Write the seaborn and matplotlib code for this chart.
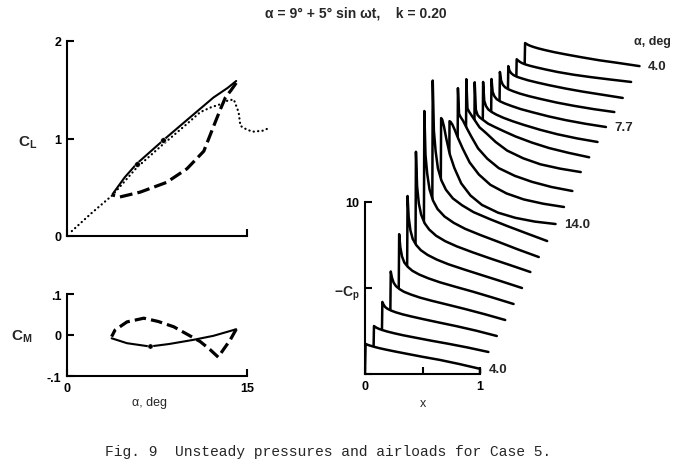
import numpy as np
import matplotlib
matplotlib.use("Agg")
import matplotlib.pyplot as plt
import seaborn as sns

# ---- airloads, alpha = 9 + 5 sin wt ----
static_alpha = [0.4, 2.0, 3.8, 5.8, 8.0, 10.0, 11.1, 12.0, 12.75, 13.4, 13.9, 14.3, 14.45, 15.0, 15.5, 16.3, 16.9]
static_cl = [0.05, 0.23, 0.42, 0.70, 0.94, 1.15, 1.27, 1.32, 1.35, 1.39, 1.40, 1.27, 1.13, 1.09, 1.07, 1.08, 1.11]

up_alpha = [3.8, 4.8, 5.8, 8.0, 10.0, 12.2, 13.4, 14.1]
up_cl = [0.43, 0.60, 0.74, 0.98, 1.19, 1.42, 1.52, 1.59]
down_alpha = [14.1, 13.7, 13.2, 12.75, 12.2, 11.4, 10.0, 8.3, 6.1, 4.4, 3.8]
down_cl = [1.57, 1.50, 1.42, 1.29, 1.12, 0.87, 0.69, 0.55, 0.45, 0.40, 0.42]
mark_alpha = [5.8, 8.0]
mark_cl = [0.74, 0.98]

cm_up_alpha = [3.72, 5.0, 6.9, 8.5, 10.5, 12.2, 14.1]
cm_up = [-0.008, -0.02, -0.028, -0.022, -0.012, -0.002, 0.014]
cm_down_alpha = [14.1, 13.6, 13.0, 12.6, 11.9, 11.1, 10.0, 8.9, 7.6, 6.4, 5.0, 4.0, 3.72]
cm_down = [0.014, -0.012, -0.037, -0.054, -0.035, -0.016, 0.002, 0.02, 0.033, 0.041, 0.032, 0.012, -0.004]
cm_mark_alpha = [6.9]
cm_mark = [-0.028]

# ---- pressure distributions, -Cp vs x, one per time step ----
x_stations = [0.0, 0.005, 0.015, 0.03, 0.05, 0.08, 0.12, 0.18, 0.26, 0.36, 0.5, 0.65, 0.82, 1.0, 1.0]
cp_curves = [
    [0, 1.75, 1.72, 1.68, 1.64, 1.58, 1.51, 1.42, 1.31, 1.18, 1.00, 0.82, 0.58, 0.30, 0.05],
    [0, 1.87, 1.82, 1.76, 1.70, 1.63, 1.55, 1.45, 1.33, 1.20, 1.02, 0.84, 0.62, 0.36],
    [0, 2.35, 2.20, 2.05, 1.95, 1.85, 1.75, 1.63, 1.50, 1.35, 1.15, 0.94, 0.68, 0.37],
    [0, 3.20, 2.85, 2.55, 2.35, 2.18, 2.02, 1.86, 1.68, 1.50, 1.27, 1.02, 0.72, 0.38],
    [0, 4.45, 3.70, 3.15, 2.80, 2.55, 2.32, 2.10, 1.88, 1.65, 1.38, 1.10, 0.76, 0.39],
    [0, 5.75, 4.50, 3.75, 3.25, 2.90, 2.60, 2.32, 2.05, 1.78, 1.47, 1.15, 0.79, 0.40],
    [0, 7.40, 5.40, 4.40, 3.75, 3.25, 2.88, 2.52, 2.20, 1.90, 1.55, 1.20, 0.82, 0.41],
    [0, 8.85, 6.30, 5.20, 4.30, 3.65, 3.15, 2.72, 2.35, 2.00, 1.62, 1.24, 0.80, 0.36],
    [0, 9.70, 6.80, 5.60, 4.60, 3.90, 3.35, 2.85, 2.45, 2.05, 1.65, 1.25, 0.82, 0.37],
    [0, 6.60, 6.50, 6.10, 5.40, 4.50, 3.70, 2.80, 2.10, 1.55, 1.10, 0.80, 0.58, 0.44],
    [0, 5.50, 5.45, 5.30, 5.00, 4.50, 3.90, 3.10, 2.40, 1.80, 1.30, 0.95, 0.70, 0.51],
    [0, 6.50, 5.00, 4.80, 4.60, 4.20, 3.70, 3.00, 2.40, 1.85, 1.40, 1.05, 0.75, 0.52],
    [0, 6.10, 4.40, 4.20, 4.00, 3.70, 3.30, 2.95, 2.45, 1.95, 1.50, 1.15, 0.90, 0.70],
    [0, 5.00, 3.40, 3.10, 2.95, 2.80, 2.60, 2.40, 2.15, 1.85, 1.50, 1.18, 0.90, 0.64],
    [0, 4.10, 3.00, 2.70, 2.50, 2.35, 2.20, 2.02, 1.82, 1.60, 1.32, 1.06, 0.82, 0.61],
    [0, 3.35, 2.60, 2.35, 2.18, 2.05, 1.93, 1.78, 1.60, 1.42, 1.18, 0.96, 0.75, 0.56],
    [0, 2.84, 2.35, 2.10, 1.95, 1.83, 1.72, 1.58, 1.43, 1.27, 1.06, 0.87, 0.68, 0.51],
    [0, 2.26, 2.00, 1.85, 1.74, 1.64, 1.55, 1.43, 1.30, 1.15, 0.96, 0.78, 0.60, 0.41],
    [0, 1.74, 1.68, 1.60, 1.52, 1.44, 1.36, 1.26, 1.14, 1.00, 0.84, 0.70, 0.56, 0.42],
    [0, 1.76, 1.72, 1.66, 1.60, 1.53, 1.45, 1.35, 1.23, 1.10, 0.93, 0.76, 0.60, 0.42],
]
curve_labels = {0: "4.0", 9: "14.0", 15: "7.7", 19: "4.0"}

# waterfall shift per curve
DX = 0.073
DY = 0.92

sns.set_style("ticks")
plt.rcParams["font.family"] = ["Liberation Sans", "DejaVu Sans"]
plt.rcParams["font.weight"] = "bold"
plt.rcParams["mathtext.fontset"] = "custom"
plt.rcParams["mathtext.bf"] = "Liberation Sans:bold"
plt.rcParams["mathtext.rm"] = "Liberation Sans:bold"
plt.rcParams["mathtext.it"] = "Liberation Sans:bold"

W, H = 697, 477
fig = plt.figure(figsize=(W / 100, H / 100), dpi=100)


def box(l, t, r, b):
    return [l / W, 1 - b / H, (r - l) / W, (b - t) / H]


def style_axes(ax, xb, yb):
    for s in ["top", "right"]:
        ax.spines[s].set_visible(False)
    for s in ["left", "bottom"]:
        ax.spines[s].set_linewidth(1.5)
        ax.spines[s].set_color("black")
        ax.spines[s].set_zorder(100)
    ax.spines["bottom"].set_bounds(*xb)
    ax.spines["left"].set_bounds(*yb)
    ax.tick_params(direction="in", length=5, width=1.5, labelsize=9, pad=4, colors="black")
    ax.xaxis.set_zorder(100)
    ax.yaxis.set_zorder(100)
    ax.set_facecolor("none")


ax_cl = fig.add_axes(box(67, 42, 277, 237))
ax_cm = fig.add_axes(box(67, 295, 277, 377))
ax_cp = fig.add_axes(box(365, 31, 652.5, 375))

# ---- C_L ----
sns.lineplot(x=static_alpha, y=static_cl, ax=ax_cl, color="black", lw=1.6,
             linestyle=(0, (0.1, 1.9)), dash_capstyle="round", sort=False, estimator=None)
sns.lineplot(x=up_alpha, y=up_cl, ax=ax_cl, color="black", lw=1.5, sort=False, estimator=None,
             solid_capstyle="round")
sns.lineplot(x=down_alpha, y=down_cl, ax=ax_cl, color="black", lw=2.3,
             linestyle=(0, (4.0, 1.6)), sort=False, estimator=None)
sns.scatterplot(x=mark_alpha, y=mark_cl, ax=ax_cl, color="black", s=16, zorder=5)
ax_cl.set_xlim(0, 17.5)
ax_cl.set_ylim(0, 2)
style_axes(ax_cl, (0, 15), (0, 2))
ax_cl.set_xticks([0, 15])
ax_cl.set_xticklabels([])
ax_cl.set_yticks([0, 1, 2])
ax_cl.set_yticklabels(["0", "1", "2"])
ax_cl.set_ylabel(r"$\mathbf{C_L}$", rotation=0, fontsize=11)
ax_cl.yaxis.set_label_coords(-0.186, 0.44)

# ---- C_M ----
sns.lineplot(x=cm_up_alpha, y=cm_up, ax=ax_cm, color="black", lw=1.5, sort=False, estimator=None)
sns.lineplot(x=cm_down_alpha, y=cm_down, ax=ax_cm, color="black", lw=2.3,
             linestyle=(0, (3.6, 1.6)), sort=False, estimator=None)
sns.scatterplot(x=cm_mark_alpha, y=cm_mark, ax=ax_cm, color="black", s=14, zorder=5)
ax_cm.set_xlim(0, 17.5)
ax_cm.set_ylim(-0.1, 0.1)
style_axes(ax_cm, (0, 15), (-0.1, 0.1))
ax_cm.set_xticks([0, 15])
ax_cm.set_xticklabels(["0", "15"])
ax_cm.set_yticks([-0.1, 0, 0.1])
ax_cm.set_yticklabels(["-.1", "0", ".1"])
ax_cm.set_ylabel(r"$\mathbf{C_M}$", rotation=0, fontsize=11)
ax_cm.yaxis.set_label_coords(-0.214, 0.39)
ax_cm.set_xlabel("α, deg", fontsize=9)
ax_cm.xaxis.set_label_coords(0.395, -0.245)

# ---- -Cp waterfall, drawn back to front with white fill for hidden lines ----
n = len(cp_curves)
te = len(x_stations) - 2
for k in range(n - 1, -1, -1):
    vals = np.array(cp_curves[k])
    xs = np.array(x_stations[:len(vals)]) + k * DX
    ys = vals + k * DY
    ax_cp.fill_between(xs, k * DY, ys, color="white", lw=0, zorder=2 * (n - k))
    sns.lineplot(x=xs, y=ys, ax=ax_cp, color="black", lw=1.8, sort=False, estimator=None,
                 zorder=2 * (n - k) + 1)
    if k in curve_labels:
        ax_cp.annotate(curve_labels[k], xy=(xs[te], ys[te]), xytext=(6, 0),
                       textcoords="offset points", va="center", ha="left", fontsize=9.5,
                       fontweight="bold", zorder=200)
ax_cp.set_xlim(0, 2.5)
ax_cp.set_ylim(0, 20)
style_axes(ax_cp, (0, 1), (0, 10))
ax_cp.set_xticks([0, 0.5, 1])
ax_cp.set_xticklabels(["0", "", "1"])
ax_cp.set_yticks([0, 5, 10])
ax_cp.set_yticklabels(["", "", "10"])
ax_cp.set_ylabel(r"$\mathbf{-C_p}$", rotation=0, fontsize=10)
ax_cp.yaxis.set_label_coords(-0.063, 0.21)
ax_cp.set_xlabel("x", fontsize=9)
ax_cp.xaxis.set_label_coords(0.2, -0.067)

fig.text(652 / W, 1 - 42 / H, "α, deg", ha="center", va="center", fontsize=9)
fig.text(356 / W, 1 - 14 / H, "α = 9° + 5° sin ωt,    k = 0.20", ha="center", va="center",
         fontsize=10)
fig.text(105 / W, 1 - 452 / H, "Fig. 9  Unsteady pressures and airloads for Case 5.",
         ha="left", va="center", fontsize=10.5, fontweight="normal",
         family=["Liberation Mono", "DejaVu Sans Mono"])

fig.savefig("out.png", dpi=100, facecolor="white")
